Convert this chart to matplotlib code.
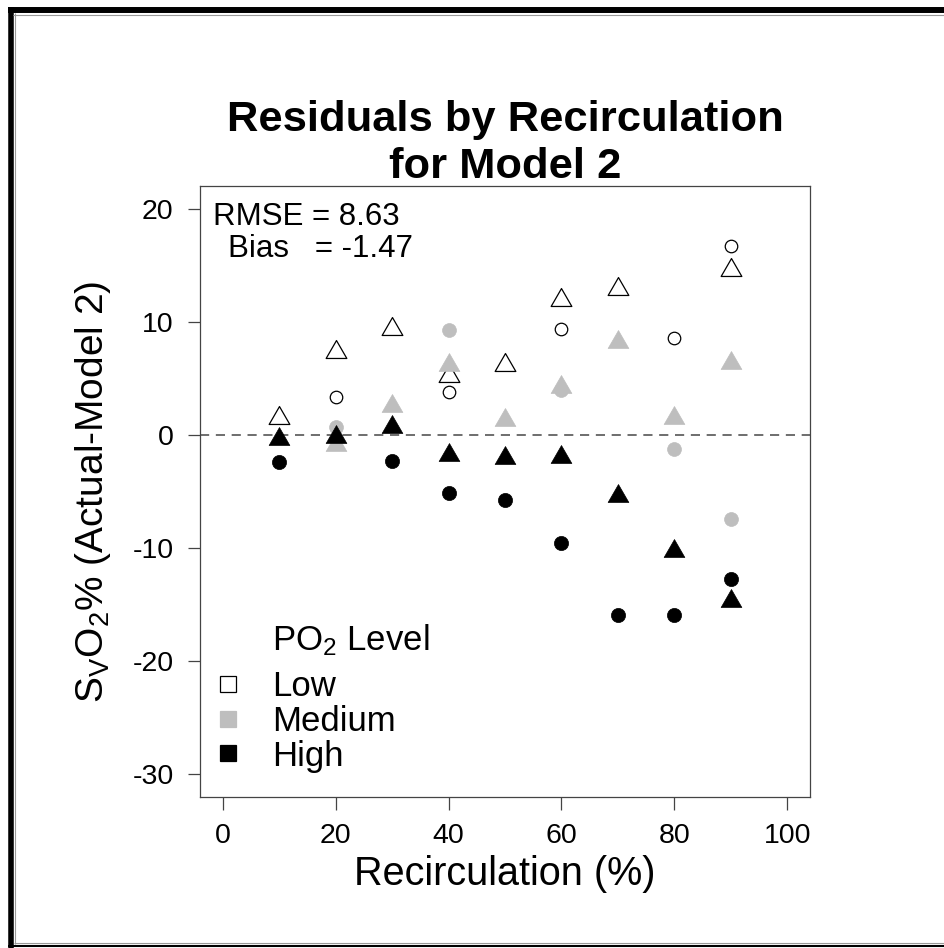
import numpy as np
import matplotlib
matplotlib.use("Agg")
import matplotlib.pyplot as plt
from matplotlib.lines import Line2D
from matplotlib.path import Path

plt.rcParams["font.family"] = ["Liberation Sans", "DejaVu Sans"]
plt.rcParams["mathtext.fontset"] = "custom"
plt.rcParams["mathtext.rm"] = "Liberation Sans"
plt.rcParams["mathtext.it"] = "Liberation Sans"
plt.rcParams["mathtext.bf"] = "Liberation Sans:bold"
plt.rcParams["axes.unicode_minus"] = False

# Data (nan = point not visible)
nan = np.nan
recirc = [10, 20, 30, 40, 50, 60, 70, 80, 90]
low_circle = [nan, 3.35, nan, 3.76, nan, 9.33, nan, 8.59, 16.74]
low_tri = [1.5, 7.3, 9.4, 5.2, 6.2, 11.9, 12.9, nan, 14.55]
med_circle = [nan, 0.74, nan, 9.27, nan, 4.0, nan, -1.27, -7.44]
med_tri = [nan, -0.85, 2.6, 6.2, 1.3, 4.2, 8.2, 1.5, 6.4]
high_circle = [-2.37, nan, -2.28, -5.13, -5.72, -9.57, -15.9, -15.9, -12.74]
high_tri = [-0.38, -0.15, 0.73, -1.73, -2.03, -1.94, -5.44, -10.3, -14.7]

levels = ["Low", "Medium", "High"]
level_colors = ["white", "#BEBEBE", "black"]
x_ticks = [0, 20, 40, 60, 80, 100]
y_ticks = [-30, -20, -10, 0, 10, 20]
rmse, bias = 8.63, -1.47

W, H = 944, 948
fig = plt.figure(figsize=(W / 100, H / 100), dpi=100)
ax = fig.add_axes([200 / W, 1 - 797 / H, 610 / W, 611 / H])

# R style equilateral triangle, centred on its centroid
tri = Path([(0, 1), (0.866, -0.5), (-0.866, -0.5), (0, 1)],
           [Path.MOVETO, Path.LINETO, Path.LINETO, Path.CLOSEPOLY])

ax.axhline(0, color="#555555", lw=1.2, dashes=(5.5, 4), zorder=1)

series = [
    (low_circle, "o", "white", "black", 9.0, 0.9),
    (low_tri, tri, "white", "black", 17.2, 0.9),
    (med_circle, "o", "#BEBEBE", "#BEBEBE", 10.0, 0.5),
    (med_tri, tri, "#BEBEBE", "#BEBEBE", 17.2, 0.5),
    (high_circle, "o", "black", "black", 10.2, 0.5),
    (high_tri, tri, "black", "black", 17.2, 0.5),
]
for vals, mk, fc, ec, ms, mew in series:
    ax.plot(recirc, vals, ls="none", marker=mk, ms=ms, mfc=fc, mec=ec,
            mew=mew, zorder=3)

ax.set_xlim(-4, 104)
ax.set_ylim(-32, 22)
ax.set_xticks(x_ticks)
ax.set_yticks(y_ticks)
ax.tick_params(labelsize=20.5, length=9, width=0.9, color="#444444", pad=10)
for sp in ax.spines.values():
    sp.set_color("#444444")
    sp.set_linewidth(0.9)

ax.set_xlabel("Recirculation (%)", fontsize=28.5)
ax.xaxis.set_label_coords(0.5, -0.095)
ax.set_ylabel(r"S$_\mathrm{V}$O$_2$% (Actual-Model 2)", fontsize=28)
ax.yaxis.set_label_coords(-0.143, 0.5)

fig.text(505 / W, 1 - 131 / H, "Residuals by Recirculation", ha="center",
         va="baseline", fontsize=31.3, fontweight="bold")
fig.text(505 / W, 1 - 178 / H, "for Model 2", ha="center",
         va="baseline", fontsize=31.3, fontweight="bold")

ax.text(13 / 610, 1 - 39 / 611, f"RMSE = {rmse:.2f}", transform=ax.transAxes,
        fontsize=22.5, va="baseline")
ax.text(28 / 610, 1 - 71 / 611, f"Bias   = {bias:.2f}", transform=ax.transAxes,
        fontsize=22.5, va="baseline")

# legend: title drawn on its own, aligned with the entry labels
ax.text(72 / 610, (797 - 640) / 611, r"PO$_2$ Level", transform=ax.transAxes,
        fontsize=25, va="center")
handles = []
for col in level_colors:
    handles.append(Line2D([], [], ls="none", marker="s", ms=11.5, mfc=col,
                          mec="black" if col == "white" else col, mew=0.9))
ax.legend(handles, levels, loc="lower left", bbox_to_anchor=(0.018, 0.04),
          frameon=False, fontsize=25, handlelength=1.0, handletextpad=0.75,
          labelspacing=0.05, borderpad=0, borderaxespad=0)

# picture frame
def frame(x0, y0, x1, y1, color, lw):
    fig.add_artist(Line2D([x0 / W, x1 / W], [1 - y0 / H, 1 - y1 / H],
                          color=color, lw=lw, solid_capstyle="butt"))

frame(10.5, 7, 10.5, 948, "black", 4.0)
frame(14.5, 13, 14.5, 944, "#999999", 0.8)
frame(8, 10, 944, 10, "black", 4.3)
frame(13, 14.5, 944, 14.5, "#999999", 0.8)
frame(8, 945.5, 944, 945.5, "black", 1.5)
frame(14, 943, 944, 943, "#999999", 0.8)

fig.savefig("out.png", dpi=100)
